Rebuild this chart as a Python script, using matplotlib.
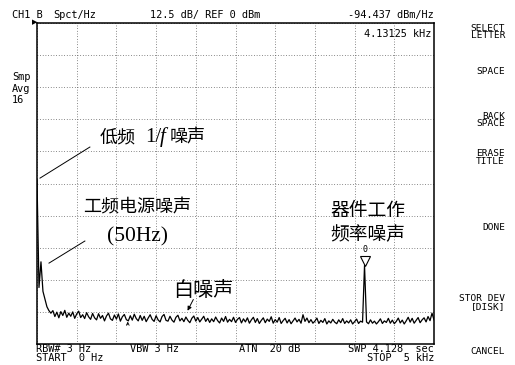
import numpy as np
import matplotlib
matplotlib.use("Agg")
import matplotlib.pyplot as plt
import matplotlib.transforms as mtransforms

# ---------------- data ----------------
freq_step_hz = 25.0
trace_dbm = [
    -61.0, -103.0, -93.0, -104.5, -107.5, -110.5, -112.0, -113.0,
    -112.0, -114.3, -112.6, -114.8, -112.4, -113.9, -111.9, -114.6, -113.0, -114.2,
    -112.5, -115.0, -113.3, -112.2, -114.7, -113.6, -115.1, -112.8, -114.4, -115.4,
    -113.1, -114.8, -115.6, -113.2, -115.0, -113.9, -116.0, -114.1, -113.0, -115.2,
    -115.8, -113.7, -115.3, -113.3, -116.1, -114.4, -113.5, -115.5, -116.0, -114.0,
    -115.7, -113.4, -115.1, -116.0, -113.9, -115.8, -114.2, -116.3, -114.9, -113.6,
    -115.4, -116.2, -114.0, -115.6, -116.4, -114.3, -113.5, -115.8, -116.1, -114.2,
    -115.7, -116.5, -114.6, -113.8, -116.0, -115.0, -116.3, -114.5, -115.8, -116.7,
    -115.0, -114.1, -116.1, -114.7, -116.4, -115.3, -114.2, -116.2, -115.0, -116.6,
    -115.2, -116.3, -114.5, -115.9, -116.8, -114.9, -116.2, -114.3, -116.5, -115.4,
    -116.3, -114.6, -116.6, -115.4, -114.7, -116.8, -115.2, -116.4, -114.8, -116.9,
    -115.6, -114.6, -116.6, -115.1, -117.0, -115.8, -114.8, -116.7, -115.3, -116.2,
    -114.4, -116.9, -115.5, -116.5, -114.7, -117.0, -115.9, -115.0, -116.8, -115.5,
    -117.1, -116.0, -114.9, -116.4, -115.4, -116.9, -113.6, -116.2, -114.9, -116.7,
    -115.5, -116.9, -116.1, -114.9, -117.0, -115.8, -116.6, -115.1, -117.2, -116.0,
    -116.8, -115.4, -116.5, -117.1, -115.6, -116.7, -115.1, -117.0, -116.0, -116.8,
    -115.6, -117.2, -116.3, -115.3, -117.0, -116.1, -116.5, -94.4, -116.4, -117.1,
    -115.6, -116.9, -116.1, -117.2, -116.3, -115.2, -117.0, -116.0, -116.6, -115.0,
    -116.9, -115.7, -117.1, -116.2, -114.9, -116.8, -115.7, -117.2, -116.0, -114.6,
    -116.5, -115.0, -116.9, -115.8, -114.7, -116.7, -115.6, -114.8, -116.4, -114.3,
    -115.9, -113.0, -115.6,
]
freq_hz = np.arange(len(trace_dbm)) * freq_step_hz

x_start_hz, x_stop_hz = 0.0, 5000.0
ref_dbm, db_per_div, n_div = 0.0, 12.5, 10
marker_freq_hz, marker_dbm = 4131.25, -94.437

header_texts = ["CH1 B", "Spct/Hz", "12.5 dB/ REF 0 dBm", "-94.437 dBm/Hz"]
marker_label = "4.13125 kHz"
avg_texts = ["Smp", "Avg", "16"]
footer_texts = ["RBW# 3 Hz", "START  0 Hz", "VBW 3 Hz", "ATN  20 dB",
                "SWP 4.128  sec", "STOP  5 kHz"]
menu_items = ["SELECT\nLETTER", "SPACE", "BACK\nSPACE", "ERASE\nTITLE",
              "DONE", "STOR DEV\n[DISK]", "CANCEL"]
menu_y_px = [32, 72, 120, 157.5, 228, 302.5, 351]

# ---------------- figure ----------------
W, H = 515, 365
fig = plt.figure(figsize=(W / 100, H / 100), dpi=100)
fig.patch.set_facecolor("white")

def fx(x):
    return x / W

def fy(y):
    return 1 - y / H

L, R, T, B = 37, 434, 23, 344
ax = fig.add_axes([fx(L), fy(B), (R - L) / W, (B - T) / H])
ax.set_xlim(x_start_hz, x_stop_hz)
ax.set_ylim(ref_dbm - db_per_div * n_div, ref_dbm)
ax.set_xticks(np.linspace(x_start_hz, x_stop_hz, n_div + 1))
ax.set_yticks(np.linspace(ref_dbm - db_per_div * n_div, ref_dbm, n_div + 1))
ax.tick_params(length=0, labelbottom=False, labelleft=False)
ax.grid(True, color="#444444", linestyle=(0, (1, 2.5)), linewidth=0.55)
for s in ax.spines.values():
    s.set_color("black")
    s.set_linewidth(1.1)

ax.plot(freq_hz, trace_dbm, color="black", linewidth=0.9, zorder=3)

# marker triangle + label
off = mtransforms.offset_copy(ax.transData, fig=fig, x=0, y=5, units="dots")
ax.plot([marker_freq_hz], [marker_dbm], marker="v", markersize=6.5,
        markerfacecolor="white", markeredgecolor="black", markeredgewidth=0.8,
        transform=off, clip_on=False, zorder=4)
ax.annotate("0", (marker_freq_hz, marker_dbm), xytext=(0, 11.5), textcoords="offset points",
            ha="center", va="center", fontsize=6, family="DejaVu Sans Mono")

mono = dict(family="DejaVu Sans Mono", fontsize=7.4, color="black")

def ptext(x, y, s, ha="left", va="center", **kw):
    fig.text(fx(x), fy(y), s, ha=ha, va=va, **kw)

# header
ptext(12, 15, header_texts[0], **mono)
ptext(53, 15, header_texts[1], **mono)
ptext(150, 15, header_texts[2], **mono)
ptext(434, 15, header_texts[3], ha="right", **mono)
ptext(431, 34, marker_label, ha="right", **mono)
ptext(37, 22.5, "\u25B6", ha="right", family="DejaVu Sans", fontsize=5)

for i, s in enumerate(avg_texts):
    ptext(12, 77 + i * 11.5, s, **mono)

# footer
ptext(36, 349, footer_texts[0], **mono)
ptext(36, 358, footer_texts[1], **mono)
ptext(130, 349, footer_texts[2], **mono)
ptext(239, 349, footer_texts[3], **mono)
ptext(434, 349, footer_texts[4], ha="right", **mono)
ptext(434, 358, footer_texts[5], ha="right", **mono)

# menu
for s, y in zip(menu_items, menu_y_px):
    ptext(505, y, s, ha="right", multialignment="right", linespacing=0.85,
          family="DejaVu Sans Mono", fontsize=6.8)

# annotations (Chinese)
cjk = ["Noto Sans CJK SC", "DejaVu Sans"]
serif = ["Liberation Serif", "DejaVu Serif"]
ptext(100, 137, "低频", family=cjk, fontsize=13)
ptext(145, 137, "1/", family=serif, fontsize=15)
ptext(160, 137, "f", family=serif, style="italic", fontsize=15)
ptext(170, 137, "噪声", family=cjk, fontsize=13)
ptext(83, 207, "工频电源噪声", family=cjk, fontsize=13)
ptext(107, 237, "(50Hz)", family=serif, fontsize=15.5)
ptext(173, 290, "白噪声", family=cjk, fontsize=14.5)
ptext(330, 211, "器件工作", family=cjk, fontsize=13.5)
ptext(330, 235, "频率噪声", family=cjk, fontsize=13.5)

# leader lines (in data coordinates)
ax.plot([38, 666], [-60.4, -48.3], color="black", linewidth=0.7, clip_on=False)
ax.plot([151, 603], [-93.5, -84.9], color="black", linewidth=0.7, clip_on=False)
ax.annotate("", xy=(1880, -113.0), xytext=(1985, -106.7),
            arrowprops=dict(arrowstyle="-|>", color="black", lw=0.7, mutation_scale=6))
ax.annotate("", xy=(1143, -115.2), xytext=(1143, -118.6),
            arrowprops=dict(arrowstyle="->", color="black", lw=0.6, mutation_scale=5))

fig.savefig("out.png", dpi=100, facecolor="white")
